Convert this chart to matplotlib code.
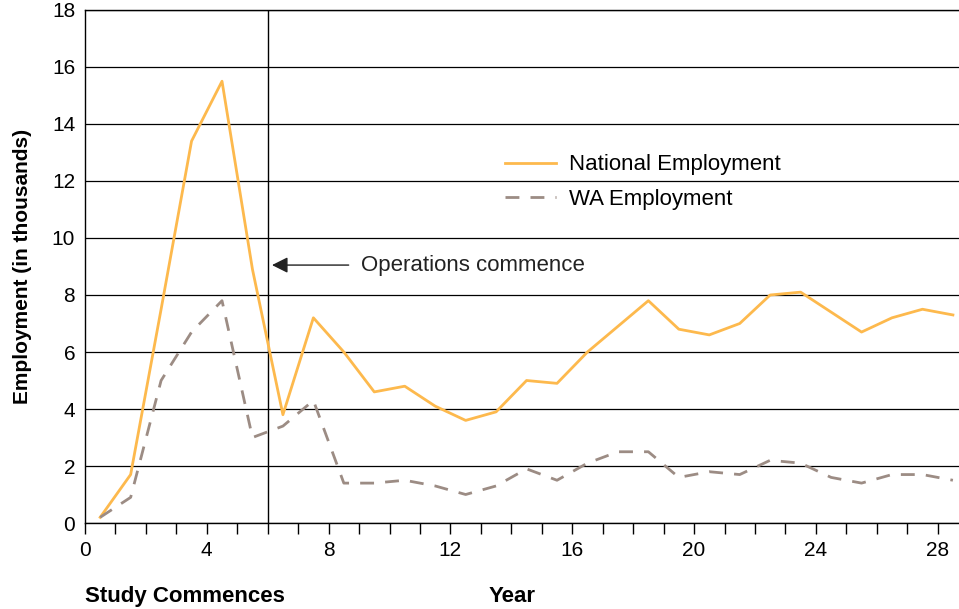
import matplotlib.pyplot as plt
import numpy as np

# Data
years = np.arange(0.5, 29, 1.0)
national = [0.2, 1.7, 7.5, 13.4, 15.5, 8.9, 3.8, 7.2, 6.0, 4.6,
            4.8, 4.1, 3.6, 3.9, 5.0, 4.9, 6.0, 6.9, 7.8, 6.8,
            6.6, 7.0, 8.0, 8.1, 7.4, 6.7, 7.2, 7.5, 7.3]
wa = [0.2, 0.9, 5.0, 6.7, 7.8, 3.0, 3.4, 4.3, 1.4, 1.4,
      1.5, 1.3, 1.0, 1.3, 1.9, 1.5, 2.1, 2.5, 2.5, 1.6,
      1.8, 1.7, 2.2, 2.1, 1.6, 1.4, 1.7, 1.7, 1.5]
major_ticks = [0, 4, 8, 12, 16, 20, 24, 28]
y_ticks = [0, 2, 4, 6, 8, 10, 12, 14, 16, 18]

plt.rcParams['font.family'] = ['Liberation Sans', 'DejaVu Sans']

fig = plt.figure(figsize=(9.59, 6.09), dpi=100)
ax = fig.add_axes([0.0886, 0.1412, 0.9114, 0.8424])

nat_color = '#FDB94D'
wa_color = '#9C8C84'

ax.plot(years, national, color=nat_color, lw=2, label='National Employment', zorder=3)
ax.plot(years, wa, color=wa_color, lw=2, ls=(0, (5, 4)), label='WA Employment', zorder=3)

ax.set_xlim(0, 28.7)
ax.set_ylim(0, 18)
ax.set_yticks(y_ticks)
ax.set_xticks(major_ticks)
ax.set_xticks(np.arange(0, 29, 1), minor=True)
ax.yaxis.grid(True, color='black', lw=0.9)
ax.set_axisbelow(True)

ax.spines['right'].set_visible(False)
for s in ['left', 'bottom', 'top']:
    ax.spines[s].set_color('black')
    ax.spines[s].set_linewidth(1.0)

ax.tick_params(axis='y', length=0, labelsize=15, pad=7)
ax.tick_params(axis='x', which='both', direction='out', length=8, width=1, labelsize=15, pad=5)

ax.axvline(6, color='black', lw=1, zorder=2)

ax.set_ylabel('Employment (in thousands)', fontsize=15, fontweight='bold', labelpad=14)

ax.annotate('', xy=(6.05, 9.05), xytext=(8.75, 9.05),
            arrowprops=dict(arrowstyle='-|>', color='#222222', lw=1, mutation_scale=24))
ax.text(9.05, 9.05, 'Operations commence', fontsize=16, va='center', ha='left', color='#222222')

ax.legend(loc='center left', bbox_to_anchor=(0.481, 0.664), frameon=False, fontsize=16,
          handlelength=2.3, handletextpad=0.55, labelspacing=0.62,
          borderpad=0, borderaxespad=0)

fig.text(0.0886, 0.004, 'Study Commences', fontsize=16, fontweight='bold', ha='left', va='bottom')
fig.text(0.509, 0.004, 'Year', fontsize=16, fontweight='bold', ha='left', va='bottom')

fig.savefig('out.png', dpi=100)
